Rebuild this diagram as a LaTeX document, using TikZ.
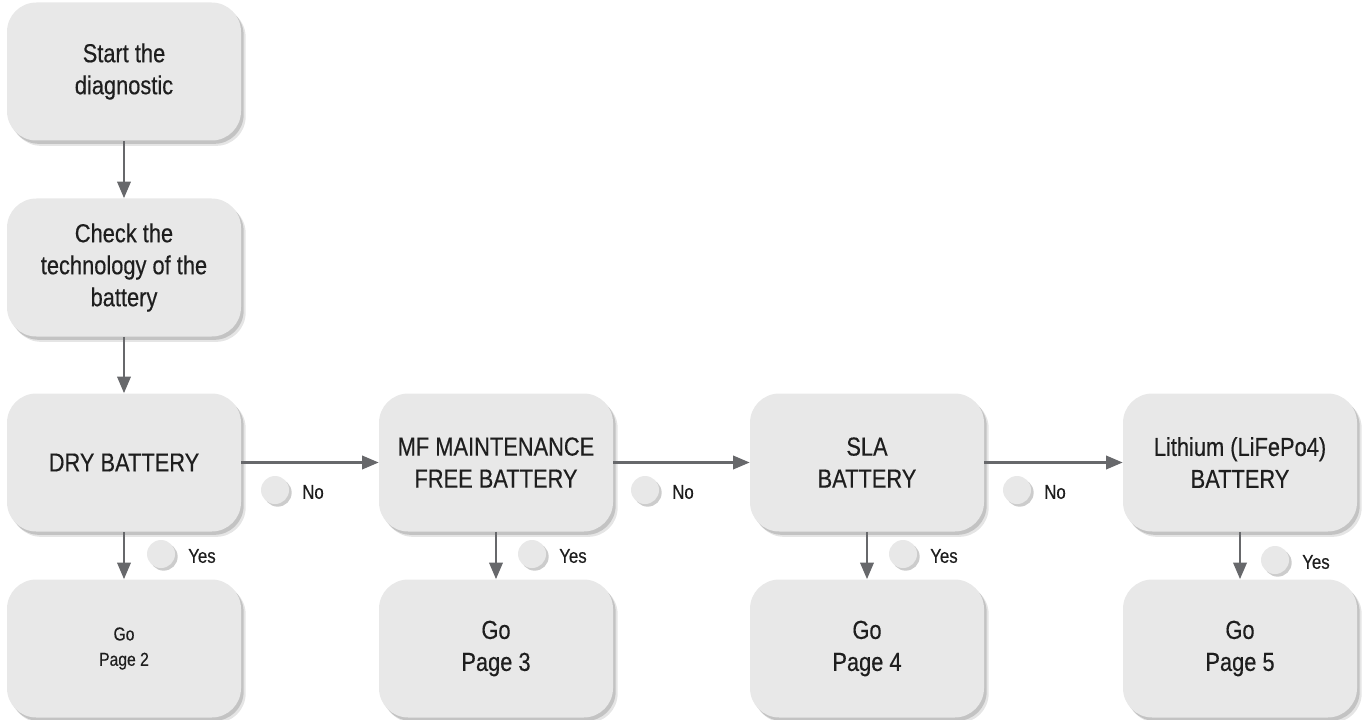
\documentclass[tikz,border=0pt]{standalone}
\usepackage{fontspec}
\setmainfont{Liberation Sans}[FakeStretch=0.84,FakeBold=0.4]
\usetikzlibrary{shadows,arrows.meta}
\definecolor{boxfill}{HTML}{E8E8E8}
\definecolor{arrowc}{HTML}{67686B}
\definecolor{txtc}{HTML}{1E1E1E}
\tikzset{
  x=0.75pt,y=-0.75pt,
  box/.style={rectangle,rounded corners=22pt,fill=boxfill,minimum width=175.5pt,minimum height=103.5pt,
    align=center,text=txtc,font=\fontsize{19.5}{24}\selectfont,inner sep=2pt,
    drop shadow={shadow xshift=3.5pt,shadow yshift=-4pt,opacity=.10,fill=black},
    drop shadow={shadow xshift=2pt,shadow yshift=-2.5pt,opacity=.15,fill=black}},
  smallbox/.style={box,font=\fontsize{14}{19}\selectfont},
  dot/.style={circle,fill=boxfill,minimum size=21pt,inner sep=0pt,
    drop shadow={shadow xshift=2pt,shadow yshift=-2pt,opacity=.2,fill=black}},
  lab/.style={anchor=west,text=txtc,font=\fontsize{15}{18}\selectfont,inner sep=0pt},
  arr/.style={draw=arrowc,line width=2pt,-{Triangle[width=10pt,length=12.5pt]},color=arrowc},
}
\begin{document}
\begin{tikzpicture}
\useasboundingbox (0,0) rectangle (1362,720);
\node[box] (start) at (124,71.5) {Start the\\diagnostic};
\node[box] (check) at (124,267.5) {Check the\\technology of the\\battery};
\node[box] (dry) at (124,462.5) {DRY BATTERY};
\node[box] (mf) at (496,462.5) {MF MAINTENANCE\\FREE BATTERY};
\node[box] (sla) at (867,462.5) {SLA\\BATTERY};
\node[box] (li) at (1240,462.5) {Lithium (LiFePo4)\\BATTERY};
\node[smallbox] (p2) at (124,648.5) {Go\\Page 2};
\node[box] (p3) at (496,648.5) {Go\\Page 3};
\node[box] (p4) at (867,648.5) {Go\\Page 4};
\node[box] (p5) at (1240,648.5) {Go\\Page 5};

\draw[arr] (start) -- (check);
\draw[arr] (check) -- (dry);
\draw[arr] (dry) -- (mf);
\draw[arr] (mf) -- (sla);
\draw[arr] (sla) -- (li);
\draw[arr] (dry) -- (p2);
\draw[arr] (mf) -- (p3);
\draw[arr] (sla) -- (p4);
\draw[arr] (li) -- (p5);

\node[dot] (n1) at (275,490) {};
\node[lab] (n1t) at (302,492) {No};
\node[dot] (n2) at (645,490) {};
\node[lab] (n2t) at (672,492) {No};
\node[dot] (n3) at (1017,490) {};
\node[lab] (n3t) at (1044,492) {No};

\node[dot] (y1) at (161,554) {};
\node[lab] (y1t) at (188,556) {Yes};
\node[dot] (y2) at (532,554) {};
\node[lab] (y2t) at (559,556) {Yes};
\node[dot] (y3) at (903,554) {};
\node[lab] (y3t) at (930,556) {Yes};
\node[dot] (y4) at (1275,560) {};
\node[lab] (y4t) at (1302,562) {Yes};
\end{tikzpicture}
\end{document}
